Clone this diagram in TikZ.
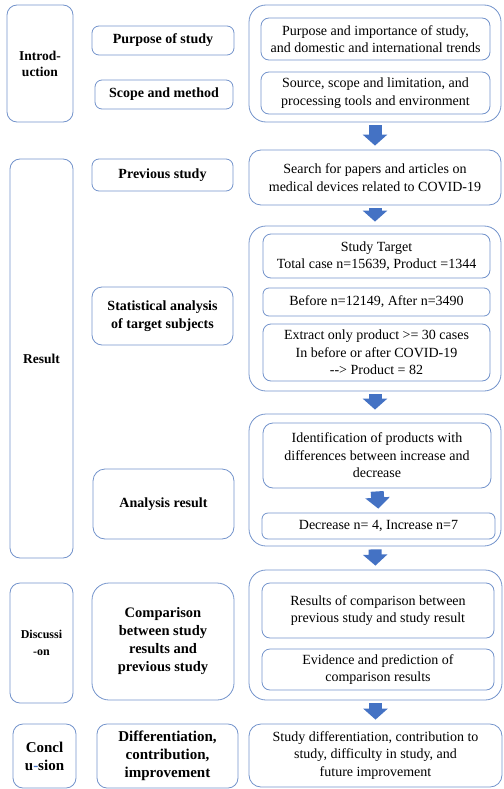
\documentclass[tikz,border=0pt]{standalone}
\usepackage{fontspec}
\setmainfont{LiberationSerif}[Extension=.ttf, UprightFont=*-Regular, BoldFont=*-Bold, ItalicFont=*-Italic, BoldItalicFont=*-BoldItalic]
\usetikzlibrary{arrows.meta, positioning, calc}

\definecolor{edge}{HTML}{7393CB}
\definecolor{flow}{HTML}{4472C4}

\tikzset{
    part/.style={draw=edge, line width=0.8pt, rounded corners=10pt, align=center, font=\bfseries\fontsize{13.5}{16}\selectfont, inner sep=0pt},
    topic/.style={draw=edge, line width=0.8pt, rounded corners=7pt, align=center, font=\bfseries\fontsize{14}{18}\selectfont, inner sep=0pt},
    group/.style={draw=edge, line width=0.8pt, rounded corners=17pt, inner sep=0pt},
    item/.style={draw=edge, line width=0.8pt, rounded corners=8pt, align=center, font=\fontsize{14}{17.5}\selectfont, inner sep=0pt},
    flowarrow/.style={draw=flow, line width=13pt, -{Triangle[width=24pt, length=11pt]}, shorten <=3pt, shorten >=4pt}
}

\begin{document}
\begin{tikzpicture}[x=1pt, y=-1pt]
    \useasboundingbox (0, 0) rectangle (503, 789);

    % left column
    \node[part, minimum width=66pt, minimum height=117pt] (intro) at (40, 63.5) {Introd-\\uction};
    \node[part, minimum width=63pt, minimum height=399pt] (result) at (41.5, 358.5) {Result};
    \node[part, minimum width=63pt, minimum height=120pt, font=\bfseries\fontsize{12}{17}\selectfont] (discuss) at (41.5, 643) {Discussi\\-on};
    \node[part, minimum width=63pt, minimum height=64pt, font=\bfseries\fontsize{15}{18}\selectfont] (concl) at (44.5, 756) {Concl\\u\textcolor{flow}{-}sion};

    % middle column
    \node[topic, minimum width=142pt, minimum height=29pt] (purpose) at (163, 40.5) {Purpose of study};
    \node[topic, minimum width=138pt, minimum height=29pt] (scope) at (164, 94.5) {Scope and method};
    \node[topic, minimum width=141pt, minimum height=32pt] (previous) at (162.5, 175) {Previous study};
    \node[topic, minimum width=141pt, minimum height=58pt, rounded corners=10pt] (stat) at (162.5, 316) {Statistical analysis\\of target subjects};
    \node[topic, minimum width=141pt, minimum height=70pt, rounded corners=12pt] (analysis) at (163.5, 504) {Analysis result};
    \node[topic, minimum width=142pt, minimum height=117pt, rounded corners=17pt, font=\bfseries\fontsize{14.5}{18}\selectfont] (compare) at (163, 641.5) {Comparison\\between study\\results and\\previous study};
    \node[topic, minimum width=141pt, minimum height=64pt, rounded corners=10pt, font=\bfseries\fontsize{15}{18}\selectfont] (improve) at (167.5, 756) {Differentiation,\\contribution,\\improvement};

    % right column
    \node[group, minimum width=252pt, minimum height=117pt] (g1) at (375, 63.5) {};
    \node[item, minimum width=229pt, minimum height=42pt] (trend) at (375.5, 39) {Purpose and importance of study,\\and domestic and international trends};
    \node[item, minimum width=229pt, minimum height=42pt] (source) at (375.5, 93) {Source, scope and limitation, and\\processing tools and environment};

    \node[item, minimum width=252pt, minimum height=55pt, rounded corners=12pt] (search) at (375, 177.5) {Search for papers and articles on\\medical devices related to COVID-19};

    \node[group, minimum width=252pt, minimum height=165pt] (g2) at (375, 308.5) {};
    \node[item, minimum width=227pt, minimum height=44pt] (target) at (376.5, 256) {Study Target\\Total case n=15639, Product =1344};
    \node[item, minimum width=227pt, minimum height=28pt, rounded corners=6pt] (before) at (376.5, 302) {Before n=12149, After n=3490};
    \node[item, minimum width=227pt, minimum height=57pt] (extract) at (376.5, 352.5) {Extract only product >= 30 cases\\In before or after COVID-19\\-{}-> Product = 82};

    \node[group, minimum width=252pt, minimum height=132pt] (g3) at (375, 480) {};
    \node[item, minimum width=228pt, minimum height=65pt, rounded corners=10pt] (ident) at (377, 455.5) {Identification of products with\\differences between increase and\\decrease};
    \node[item, minimum width=233pt, minimum height=26pt, rounded corners=6pt] (change) at (378.5, 526) {Decrease n= 4, Increase n=7};

    \node[group, minimum width=253pt, minimum height=130pt] (g4) at (375.5, 635) {};
    \node[item, minimum width=232pt, minimum height=55pt] (compres) at (378, 610.5) {Results of comparison between\\previous study and study result};
    \node[item, minimum width=232pt, minimum height=41pt] (evidence) at (378, 669.5) {Evidence and prediction of\\comparison results};

    \node[item, minimum width=253pt, minimum height=63pt, rounded corners=12pt] (future) at (375.5, 755.5) {Study differentiation, contribution to\\study, difficulty in study, and\\future improvement};

    % flow
    \draw[flowarrow] (g1.south) -- (search.north);
    \draw[flowarrow] (search.south) -- (g2.north);
    \draw[flowarrow] (g2.south) -- (g3.north);
    \draw[flowarrow] (ident.south) -- (change.north);
    \draw[flowarrow] (g3.south) -- (g4.north);
    \draw[flowarrow] (g4.south) -- (future.north);
\end{tikzpicture}
\end{document}
